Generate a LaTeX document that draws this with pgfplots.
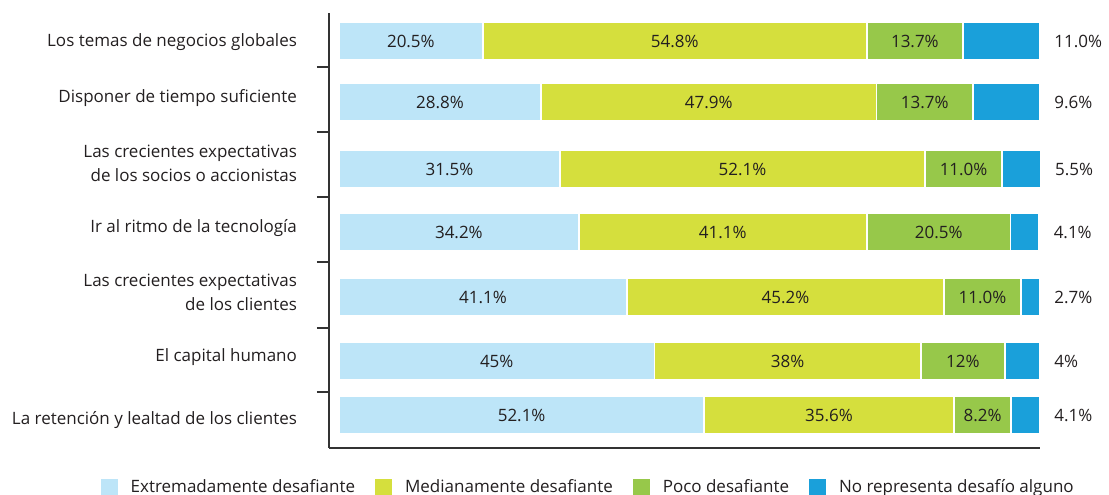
\documentclass[border=0pt]{standalone}
\usepackage{fontspec}
\setmainfont{Open Sans}
\usepackage{pgfplots}
\usepackage{pgfplotstable}
\pgfplotsset{compat=1.18}

\definecolor{cExtr}{HTML}{BDE5F8}
\definecolor{cMed}{HTML}{D5DF3D}
\definecolor{cPoco}{HTML}{97C84A}
\definecolor{cNo}{HTML}{1AA0DA}
\definecolor{txt}{HTML}{231F20}
\definecolor{axisgray}{HTML}{333333}

% y = bar centre (pixel rows of the original, top to bottom)
\pgfplotstableread{
y   a     b     c     d     la    lb    lc    ld
41  20.5  54.8  13.7  11.0  20.5  54.8  13.7  11.0
102 28.8  47.9  13.7  9.6   28.8  47.9  13.7  9.6
169 31.5  52.1  11.0  5.5   31.5  52.1  11.0  5.5
232 34.2  41.1  20.5  4.1   34.2  41.1  20.5  4.1
297 41.1  45.2  11.0  2.7   41.1  45.2  11.0  2.7
361 45    38    12    5     45    38    12    4
415 52.1  35.6  8.2   4.1   52.1  35.6  8.2   4.1
}\datatable

\newcommand{\lblfont}{\fontsize{8.5}{12}\selectfont}

\begin{document}
\begin{tikzpicture}
\useasboundingbox (-164.5pt,-23pt) rectangle (390pt,224pt);
\begin{axis}[
  at={(0pt,0pt)}, anchor=south west,
  scale only axis,
  width=355.5pt, height=217.5pt,
  xbar stacked,
  bar width=37,
  xmin=-1.43, xmax=100,
  ymin=13, ymax=448,
  y dir=reverse,
  clip=false,
  axis x line*=bottom,
  axis y line*=left,
  axis line style={axisgray, line width=1pt},
  xtick=\empty,
  ytick={42,98,163,228,292,357,420},
  yticklabels={
    Los temas de negocios globales,
    Disponer de tiempo suficiente,
    {Las crecientes expectativas\\de los socios o accionistas},
    Ir al ritmo de la tecnología,
    {Las crecientes expectativas\\de los clientes},
    El capital humano,
    La retención y lealtad de los clientes},
  yticklabel style={align=right, font=\lblfont, text=txt, xshift=-12.5pt},
  major tick length=0pt,
  minor ytick={67,132,197,262,328,392},
  minor tick length=6pt,
  tick align=outside,
  minor tick style={axisgray, line width=1pt},
  point meta=explicit symbolic,
  nodes near coords={\pgfplotspointmeta\%},
  every node near coord/.append style={font=\lblfont, text=txt},
  legend columns=4,
  legend style={at={(0.366,-0.062)}, anchor=north, draw=none, inner sep=0pt,
    font=\lblfont, text=txt,
    /tikz/every odd column/.append style={column sep=4.5pt},
    /tikz/every even column/.append style={column sep=8pt}},
  legend image code/.code={\fill[#1, draw=none] (0pt,-4.25pt) rectangle (8.5pt,4.25pt);},
  legend cell align=left,
]
\addplot[fill=cExtr, draw=white, line width=0.8pt,
  every node near coord/.append style={anchor=center}]
  table[x=a, y=y, meta=la] {\datatable};
\addlegendentry{Extremadamente desafiante}
\addplot[fill=cMed, draw=white, line width=0.8pt,
  every node near coord/.append style={anchor=center}]
  table[x=b, y=y, meta=lb] {\datatable};
\addlegendentry{Medianamente desafiante}
\addplot[fill=cPoco, draw=white, line width=0.8pt,
  every node near coord/.append style={anchor=center}]
  table[x=c, y=y, meta=lc] {\datatable};
\addlegendentry{Poco desafiante}
% last segment: label outside the bar, right of its end
\addplot[fill=cNo, draw=white, line width=0.8pt,
  visualization depends on={\thisrow{d} \as \w},
  every node near coord/.append style={anchor=west,
    shift={(axis direction cs:\w/2,0)}, xshift=3.5pt}]
  table[x=d, y=y, meta=ld] {\datatable};
\addlegendentry{No representa desafío alguno}
\end{axis}
\end{tikzpicture}
\end{document}
